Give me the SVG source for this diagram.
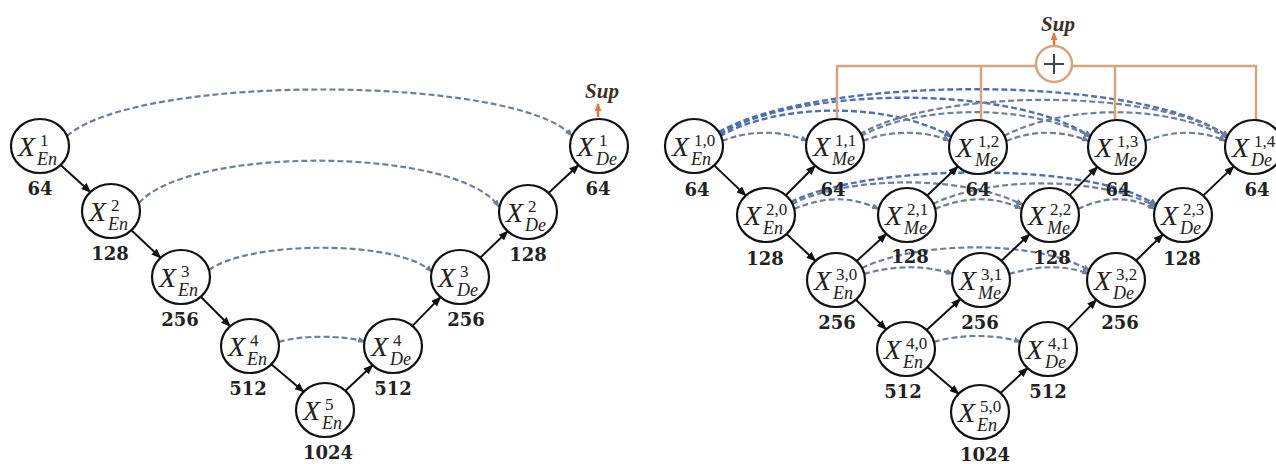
<svg xmlns="http://www.w3.org/2000/svg" width="1276" height="464" viewBox="0 0 1276 464">
<style>
.nd{fill:#fff;stroke:#111;stroke-width:2.2}
.x{font-family:"Liberation Serif",serif;font-style:italic;font-size:28px;fill:#222}
.sp{font-family:"Liberation Serif",serif;font-size:17px;fill:#222}
.sb{font-family:"Liberation Serif",serif;font-style:italic;font-size:18px;fill:#222}
.num{font-family:"DejaVu Serif",serif;font-weight:bold;font-size:18px;fill:#222;text-anchor:middle}
.sup{font-family:"Liberation Serif",serif;font-weight:bold;font-style:italic;font-size:21px;fill:#3a3028;text-anchor:middle}
.ar{stroke:#111;stroke-width:2;fill:none;marker-end:url(#ah)}
.sk{stroke:#6e7f9e;stroke-width:2.2;fill:none;stroke-dasharray:6 3;marker-end:url(#ad)}
.skb{stroke:#4d70b2;stroke-width:2.4;fill:none;stroke-dasharray:6 3;marker-end:url(#ab)}
.bus{stroke:#d6a57c;stroke-width:2.5;fill:none}
</style>
<defs>
<marker id="ah" markerWidth="10" markerHeight="8" refX="9" refY="4" orient="auto" markerUnits="userSpaceOnUse"><path d="M0,0 L10,4 L0,8 z" fill="#111"/></marker>
<marker id="ad" markerWidth="8" markerHeight="6" refX="7" refY="3" orient="auto" markerUnits="userSpaceOnUse"><path d="M0,0 L8,3 L0,6 z" fill="#6e7f9e"/></marker>
<marker id="ab" markerWidth="9" markerHeight="7" refX="8" refY="3.5" orient="auto" markerUnits="userSpaceOnUse"><path d="M0,0 L9,3.5 L0,7 z" fill="#4d70b2"/></marker>
<marker id="ao" markerWidth="8" markerHeight="7" refX="7" refY="3.5" orient="auto" markerUnits="userSpaceOnUse"><path d="M0,0 L8,3.5 L0,7 z" fill="#e07a3a"/></marker>
</defs>
<rect width="1276" height="464" fill="#fff"/>

<g id="connectors">
<!-- left skip connections -->
<path class="sk" d="M67,136 C140,72 520,76 572,136"/>
<path class="sk" d="M139,203 C190,145 460,147 499,207"/>
<path class="sk" d="M209,270 C250,240 400,240 432,272"/>
<path class="sk" d="M279,342 C300,335 345,335 365,342"/>
<!-- left main path -->
<line class="ar" x1="60.6" y1="164.9" x2="90.4" y2="192.1"/>
<line class="ar" x1="131.4" y1="230.2" x2="160.6" y2="257.8"/>
<line class="ar" x1="200.8" y1="296.8" x2="230.2" y2="326.2"/>
<line class="ar" x1="271.3" y1="364.2" x2="303.7" y2="391.8"/>
<line class="ar" x1="345.4" y1="390.8" x2="372.6" y2="365.2"/>
<line class="ar" x1="412.5" y1="325.9" x2="440.5" y2="297.1"/>
<line class="ar" x1="480.2" y1="257.7" x2="507.8" y2="231.3"/>
<line class="ar" x1="548.5" y1="192.9" x2="578.5" y2="165.1"/>
<!-- left Sup arrow -->
<line x1="598" y1="117" x2="598" y2="104" stroke="#e07a3a" stroke-width="2.5" marker-end="url(#ao)"/>

<!-- right skip connections level 1 -->
<path class="sk" d="M722,141 C750,130 780,130 808,141"/>
<path class="skb" d="M720,136 C780,102 890,102 952,137"/>
<path class="skb" d="M720,134 C800,85 1020,85 1092,138"/>
<path class="skb" d="M719,132 C820,74 1150,74 1229,138"/>
<path class="sk" d="M863,141 C890,130 925,130 950,141"/>
<path class="sk" d="M861,136 C920,104 1030,104 1091,137"/>
<path class="sk" d="M860,134 C940,88 1160,88 1229,137"/>
<path class="sk" d="M1006,141 C1035,130 1060,130 1089,141"/>
<path class="sk" d="M1004,136 C1065,104 1170,104 1228,138"/>
<path class="sk" d="M1145,141 C1175,130 1200,130 1226,141"/>
<!-- level 2 -->
<path class="sk" d="M794,209 C825,196 850,196 879,209"/>
<path class="sk" d="M792,204 C850,175 965,175 1023,205"/>
<path class="skb" d="M791,202 C870,162 1100,162 1157,206"/>
<path class="sk" d="M935,209 C965,196 995,196 1022,209"/>
<path class="sk" d="M933,204 C990,176 1100,176 1157,207"/>
<path class="sk" d="M1078,209 C1105,196 1130,196 1155,209"/>
<!-- level 3 -->
<path class="sk" d="M864,274 C895,265 925,265 953,274"/>
<path class="sk" d="M862,268 C920,240 1040,240 1090,271"/>
<path class="sk" d="M1009,274 C1040,265 1065,265 1089,274"/>
<!-- level 4 -->
<path class="sk" d="M934,342 C960,334 995,334 1021,342"/>

<!-- right main arrows -->
<line class="ar" x1="714.2" y1="165.4" x2="745.8" y2="195.6"/>
<line class="ar" x1="786.5" y1="234.1" x2="815.5" y2="260.9"/>
<line class="ar" x1="855.9" y1="299.7" x2="886.1" y2="329.3"/>
<line class="ar" x1="927.3" y1="367.1" x2="958.7" y2="393.9"/>
<line class="ar" x1="1000.5" y1="393" x2="1027.5" y2="368"/>
<line class="ar" x1="1067.7" y1="329.1" x2="1096.3" y2="299.9"/>
<line class="ar" x1="1136.1" y1="260.5" x2="1162.9" y2="234.5"/>
<line class="ar" x1="1203.2" y1="195.6" x2="1233.8" y2="166.4"/>
<line class="ar" x1="785.8" y1="195.2" x2="815.2" y2="165.8"/>
<line class="ar" x1="856.6" y1="261.1" x2="886.4" y2="233.9"/>
<line class="ar" x1="927.2" y1="195.6" x2="957.8" y2="166.6"/>
<line class="ar" x1="926.6" y1="330" x2="960.4" y2="299"/>
<line class="ar" x1="1001.4" y1="260.8" x2="1029.6" y2="234.2"/>
<line class="ar" x1="1069.6" y1="195.1" x2="1097.4" y2="166.9"/>

<!-- deep supervision bus -->
<path class="bus" d="M837,120 V66 H1036"/>
<path class="bus" d="M1072,66 H1256 V120"/>
<path class="bus" d="M981,66 V120"/>
<path class="bus" d="M1115,66 V120"/>
<line x1="1054" y1="45" x2="1054" y2="33" stroke="#e07a3a" stroke-width="2.5" marker-end="url(#ao)"/>
</g>

<g id="sum">
<circle cx="1054" cy="64" r="18" fill="#fff" stroke="#d6a57c" stroke-width="2.5"/>
<path d="M1054,54 V74 M1044,64 H1064" stroke="#3a4660" stroke-width="2" fill="none"/>
</g>
<text id="sup-left" class="sup" x="602" y="98">Sup</text>
<text id="sup-right" class="sup" x="1058" y="31">Sup</text>

<!-- left nodes -->
<g id="L-En1"><ellipse class="nd" cx="40" cy="146" rx="29" ry="27"/><text class="x" x="18" y="156">X</text><text class="sp" x="40" y="146">1</text><text class="sb" x="37" y="165">En</text><text class="num" x="40" y="195">64</text></g>
<g id="L-En2"><ellipse class="nd" cx="111" cy="211" rx="29" ry="27"/><text class="x" x="89" y="221">X</text><text class="sp" x="111" y="211">2</text><text class="sb" x="108" y="230">En</text><text class="num" x="110" y="260">128</text></g>
<g id="L-En3"><ellipse class="nd" cx="181" cy="277" rx="29" ry="27"/><text class="x" x="159" y="287">X</text><text class="sp" x="181" y="277">3</text><text class="sb" x="178" y="296">En</text><text class="num" x="180" y="326">256</text></g>
<g id="L-En4"><ellipse class="nd" cx="250" cy="346" rx="29" ry="27"/><text class="x" x="228" y="356">X</text><text class="sp" x="250" y="346">4</text><text class="sb" x="247" y="365">En</text><text class="num" x="248" y="395">512</text></g>
<g id="L-En5"><ellipse class="nd" cx="325" cy="410" rx="29" ry="27"/><text class="x" x="303" y="420">X</text><text class="sp" x="325" y="410">5</text><text class="sb" x="322" y="429">En</text><text class="num" x="328" y="459">1024</text></g>
<g id="L-De4"><ellipse class="nd" cx="393" cy="346" rx="29" ry="27"/><text class="x" x="371" y="356">X</text><text class="sp" x="393" y="346">4</text><text class="sb" x="390" y="365">De</text><text class="num" x="393" y="395">512</text></g>
<g id="L-De3"><ellipse class="nd" cx="460" cy="277" rx="29" ry="27"/><text class="x" x="438" y="287">X</text><text class="sp" x="460" y="277">3</text><text class="sb" x="457" y="296">De</text><text class="num" x="466" y="326">256</text></g>
<g id="L-De2"><ellipse class="nd" cx="528" cy="212" rx="29" ry="27"/><text class="x" x="506" y="222">X</text><text class="sp" x="528" y="212">2</text><text class="sb" x="525" y="231">De</text><text class="num" x="528" y="261">128</text></g>
<g id="L-De1"><ellipse class="nd" cx="599" cy="146" rx="29" ry="27"/><text class="x" x="577" y="156">X</text><text class="sp" x="599" y="146">1</text><text class="sb" x="596" y="165">De</text><text class="num" x="598" y="195">64</text></g>

<!-- right nodes -->
<g id="R-En10"><ellipse class="nd" cx="694" cy="146" rx="29" ry="27"/><text class="x" x="672" y="156">X</text><text class="sp" x="694" y="146">1,0</text><text class="sb" x="691" y="165">En</text><text class="num" x="697" y="196">64</text></g>
<g id="R-Me11"><ellipse class="nd" cx="835" cy="146" rx="29" ry="27"/><text class="x" x="813" y="156">X</text><text class="sp" x="835" y="146">1,1</text><text class="sb" x="832" y="165">Me</text><text class="num" x="833" y="196">64</text></g>
<g id="R-Me12"><ellipse class="nd" cx="978" cy="147" rx="29" ry="27"/><text class="x" x="956" y="157">X</text><text class="sp" x="978" y="147">1,2</text><text class="sb" x="975" y="166">Me</text><text class="num" x="978" y="196">64</text></g>
<g id="R-Me13"><ellipse class="nd" cx="1117" cy="147" rx="29" ry="27"/><text class="x" x="1095" y="157">X</text><text class="sp" x="1117" y="147">1,3</text><text class="sb" x="1114" y="166">Me</text><text class="num" x="1118" y="196">64</text></g>
<g id="R-De14"><ellipse class="nd" cx="1254" cy="147" rx="29" ry="27"/><text class="x" x="1232" y="157">X</text><text class="sp" x="1254" y="147">1,4</text><text class="sb" x="1251" y="166">De</text><text class="num" x="1257" y="196">64</text></g>
<g id="R-En20"><ellipse class="nd" cx="766" cy="215" rx="29" ry="27"/><text class="x" x="744" y="225">X</text><text class="sp" x="766" y="215">2,0</text><text class="sb" x="763" y="234">En</text><text class="num" x="765" y="265">128</text></g>
<g id="R-Me21"><ellipse class="nd" cx="907" cy="215" rx="29" ry="27"/><text class="x" x="885" y="225">X</text><text class="sp" x="907" y="215">2,1</text><text class="sb" x="904" y="234">Me</text><text class="num" x="910" y="263">128</text></g>
<g id="R-Me22"><ellipse class="nd" cx="1050" cy="215" rx="29" ry="27"/><text class="x" x="1028" y="225">X</text><text class="sp" x="1050" y="215">2,2</text><text class="sb" x="1047" y="234">Me</text><text class="num" x="1052" y="264">128</text></g>
<g id="R-De23"><ellipse class="nd" cx="1183" cy="215" rx="29" ry="27"/><text class="x" x="1161" y="225">X</text><text class="sp" x="1183" y="215">2,3</text><text class="sb" x="1180" y="234">De</text><text class="num" x="1182" y="265">128</text></g>
<g id="R-En30"><ellipse class="nd" cx="836" cy="280" rx="29" ry="27"/><text class="x" x="814" y="290">X</text><text class="sp" x="836" y="280">3,0</text><text class="sb" x="833" y="299">En</text><text class="num" x="837" y="329">256</text></g>
<g id="R-Me31"><ellipse class="nd" cx="981" cy="280" rx="29" ry="27"/><text class="x" x="959" y="290">X</text><text class="sp" x="981" y="280">3,1</text><text class="sb" x="978" y="299">Me</text><text class="num" x="980" y="329">256</text></g>
<g id="R-De32"><ellipse class="nd" cx="1116" cy="280" rx="29" ry="27"/><text class="x" x="1094" y="290">X</text><text class="sp" x="1116" y="280">3,2</text><text class="sb" x="1113" y="299">De</text><text class="num" x="1120" y="329">256</text></g>
<g id="R-En40"><ellipse class="nd" cx="906" cy="349" rx="29" ry="27"/><text class="x" x="884" y="359">X</text><text class="sp" x="906" y="349">4,0</text><text class="sb" x="903" y="368">En</text><text class="num" x="903" y="398">512</text></g>
<g id="R-De41"><ellipse class="nd" cx="1048" cy="349" rx="29" ry="27"/><text class="x" x="1026" y="359">X</text><text class="sp" x="1048" y="349">4,1</text><text class="sb" x="1045" y="368">De</text><text class="num" x="1048" y="398">512</text></g>
<g id="R-En50"><ellipse class="nd" cx="980" cy="412" rx="29" ry="27"/><text class="x" x="958" y="422">X</text><text class="sp" x="980" y="412">5,0</text><text class="sb" x="977" y="431">En</text><text class="num" x="985" y="461">1024</text></g>
</svg>
